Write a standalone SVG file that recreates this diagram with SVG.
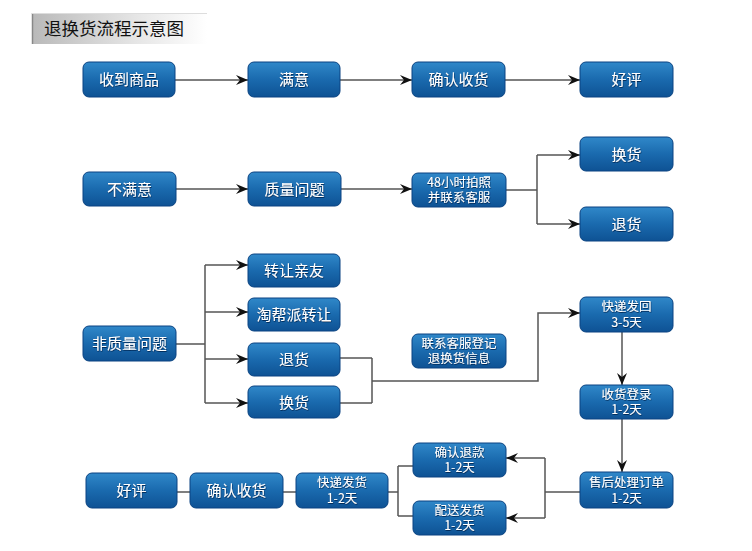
<svg xmlns="http://www.w3.org/2000/svg" width="752" height="551" viewBox="0 0 752 551">
<defs>
<linearGradient id="nodeGrad" x1="0" y1="0" x2="0" y2="1">
<stop offset="0" stop-color="#3088c9"/>
<stop offset="0.5" stop-color="#1a6aae"/>
<stop offset="1" stop-color="#0e5294"/>
</linearGradient>
<linearGradient id="titleGrad" x1="0" y1="0" x2="1" y2="0">
<stop offset="0" stop-color="#b9b9b9"/>
<stop offset="0.6" stop-color="#e6e6e6"/>
<stop offset="1" stop-color="#ffffff"/>
</linearGradient>
<filter id="ts" x="-10%" y="-20%" width="120%" height="150%">
<feDropShadow dx="0.5" dy="1" stdDeviation="0.4" flood-color="#062a55" flood-opacity="0.9"/>
</filter>
<marker id="arr" markerUnits="userSpaceOnUse" markerWidth="12" markerHeight="10" viewBox="0 0 12 10" refX="12" refY="5" orient="auto">
<path d="M0,0 L12,5 L0,10 L4,5 z" fill="#111"/>
</marker>
</defs>
<style>
.node rect{fill:url(#nodeGrad);stroke:#0a4382;stroke-width:1}
.node text{fill:#fff;font-family:"Noto Sans CJK SC","Liberation Sans",sans-serif;text-anchor:middle;filter:url(#ts)}
.t1{font-size:15px}
.t2{font-size:12.5px;font-family:"Liberation Sans","Noto Sans CJK SC",sans-serif}
.conn path{fill:none;stroke:#555;stroke-width:1.5}
.conn path.a{marker-end:url(#arr)}
</style>
<rect width="752" height="551" fill="#fff"/>
<g id="title">
<rect x="32" y="13" width="175" height="31" fill="url(#titleGrad)"/>
<path d="M32.5,13 V44" stroke="#888" stroke-width="1.5"/>
<path d="M32,13.5 H207" stroke="#ddd" stroke-width="1"/>
<text x="44" y="35" font-family="Noto Sans CJK SC,Liberation Sans,sans-serif" font-size="17.5" fill="#111">退换货流程示意图</text>
</g>
<g class="conn" id="connectors">
<path class="a" d="M175,80 H248"/>
<path class="a" d="M340,80 H412"/>
<path class="a" d="M505,80 H580"/>
<path class="a" d="M176,189 H248"/>
<path class="a" d="M341,189 H412"/>
<path d="M506,190 H537 M537,155 V224"/>
<path class="a" d="M537,155 H580"/>
<path class="a" d="M537,224 H580"/>
<path d="M176,344 H205 M205,265 V403"/>
<path class="a" d="M205,265 H248"/>
<path class="a" d="M205,312 H248"/>
<path class="a" d="M205,359 H248"/>
<path class="a" d="M205,403 H248"/>
<path d="M340,358 H372 M340,403 H372 M372,358 V403"/>
<path class="a" d="M372,381 H538 V313 H580"/>
<path class="a" d="M622,332 V385"/>
<path class="a" d="M622,419 V472"/>
<path d="M580,492 H545 M545,458 V518"/>
<path class="a" d="M545,458 H506"/>
<path class="a" d="M545,518 H506"/>
<path d="M413,466 H398 M413,516 H398 M398,466 V516 M388,492 H398"/>
<path d="M177,492 H190 M283,492 H296"/>
</g>
<g class="node" id="n1"><rect x="83" y="62" width="92" height="35" rx="6"/><text class="t1" x="129" y="85">收到商品</text></g>
<g class="node" id="n2"><rect x="248" y="62" width="92" height="35" rx="6"/><text class="t1" x="294" y="85">满意</text></g>
<g class="node" id="n3"><rect x="412" y="62" width="93" height="35" rx="6"/><text class="t1" x="458.5" y="85">确认收货</text></g>
<g class="node" id="n4"><rect x="580" y="62" width="93" height="35" rx="6"/><text class="t1" x="626.5" y="85">好评</text></g>
<g class="node" id="n5"><rect x="83" y="172" width="93" height="34" rx="6"/><text class="t1" x="129.5" y="194.5">不满意</text></g>
<g class="node" id="n6"><rect x="248" y="172" width="93" height="34" rx="6"/><text class="t1" x="294.5" y="194.5">质量问题</text></g>
<g class="node" id="n7"><rect x="412" y="173" width="94" height="34" rx="6"/><text class="t2" x="459" y="187">48小时拍照<tspan x="459" dy="15">并联系客服</tspan></text></g>
<g class="node" id="n8"><rect x="580" y="137" width="93" height="34" rx="6"/><text class="t1" x="626.5" y="159.5">换货</text></g>
<g class="node" id="n9"><rect x="580" y="207" width="93" height="34" rx="6"/><text class="t1" x="626.5" y="229.5">退货</text></g>
<g class="node" id="n10"><rect x="83" y="326" width="93" height="35" rx="6"/><text class="t1" x="129.5" y="349">非质量问题</text></g>
<g class="node" id="n11"><rect x="248" y="254" width="92" height="33" rx="6"/><text class="t1" x="294" y="276">转让亲友</text></g>
<g class="node" id="n12"><rect x="248" y="298" width="92" height="33" rx="6"/><text class="t1" x="294" y="320">淘帮派转让</text></g>
<g class="node" id="n13"><rect x="248" y="343" width="92" height="33" rx="6"/><text class="t1" x="294" y="365">退货</text></g>
<g class="node" id="n14"><rect x="248" y="386" width="92" height="32" rx="6"/><text class="t1" x="294" y="407.5">换货</text></g>
<g class="node" id="n15"><rect x="412" y="334" width="94" height="34" rx="6"/><text class="t2" x="459" y="348">联系客服登记<tspan x="459" dy="15">退换货信息</tspan></text></g>
<g class="node" id="n16"><rect x="580" y="297" width="93" height="35" rx="6"/><text class="t2" x="626.5" y="311">快递发回<tspan x="626.5" dy="16">3-5天</tspan></text></g>
<g class="node" id="n17"><rect x="580" y="385" width="93" height="34" rx="6"/><text class="t2" x="626.5" y="399">收货登录<tspan x="626.5" dy="15">1-2天</tspan></text></g>
<g class="node" id="n18"><rect x="580" y="472" width="93" height="36" rx="6"/><text class="t2" x="626.5" y="487">售后处理订单<tspan x="626.5" dy="16">1-2天</tspan></text></g>
<g class="node" id="n19"><rect x="413" y="443" width="93" height="34" rx="6"/><text class="t2" x="459.5" y="457">确认退款<tspan x="459.5" dy="15">1-2天</tspan></text></g>
<g class="node" id="n20"><rect x="413" y="501" width="93" height="34" rx="6"/><text class="t2" x="459.5" y="515">配送发货<tspan x="459.5" dy="15">1-2天</tspan></text></g>
<g class="node" id="n21"><rect x="296" y="473" width="92" height="35" rx="6"/><text class="t2" x="342" y="487">快递发货<tspan x="342" dy="16">1-2天</tspan></text></g>
<g class="node" id="n22"><rect x="190" y="473" width="93" height="35" rx="6"/><text class="t1" x="236.5" y="496">确认收货</text></g>
<g class="node" id="n23"><rect x="86" y="473" width="91" height="35" rx="6"/><text class="t1" x="131.5" y="496">好评</text></g>
</svg>
